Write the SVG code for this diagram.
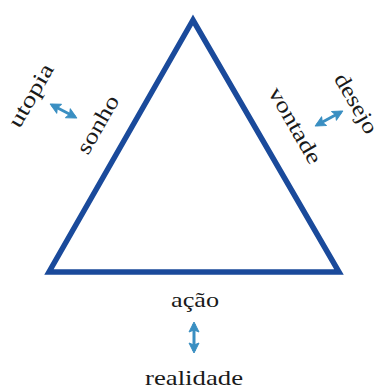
<svg xmlns="http://www.w3.org/2000/svg" width="378" height="389" viewBox="0 0 378 389">
<style>
.t{font-family:"Liberation Serif","Times New Roman",serif;font-size:22px;fill:#1a1a1a;}
.arr{stroke:#3a8fc2;stroke-width:3;fill:none;marker-start:url(#h);marker-end:url(#h);}
</style>
<defs>
<marker id="h" markerUnits="userSpaceOnUse" markerWidth="12" markerHeight="12" refX="9" refY="6" orient="auto-start-reverse">
<path d="M1,1 L11,6 L1,11 L3,6 z" fill="#3a8fc2" stroke="#3a8fc2" stroke-width="1" stroke-linejoin="round"/>
</marker>
</defs>
<rect width="378" height="389" fill="#fff"/>
<g id="triangle">
<polygon points="193,20 49,272 339,272" fill="none" stroke="#1a4a9b" stroke-width="5.5" stroke-linejoin="miter"/>
</g>
<g id="sonho"><text class="t" text-anchor="middle" textLength="64" lengthAdjust="spacingAndGlyphs" transform="translate(104,128) rotate(-60)">sonho</text></g>
<g id="vontade"><text class="t" text-anchor="middle" textLength="85" lengthAdjust="spacingAndGlyphs" transform="translate(289,129) rotate(60)">vontade</text></g>
<g id="acao"><text class="t" x="195" y="307" text-anchor="middle" textLength="48" lengthAdjust="spacingAndGlyphs">ação</text></g>
<g id="utopia"><text class="t" text-anchor="middle" textLength="70" lengthAdjust="spacingAndGlyphs" transform="translate(37,99) rotate(-60)">utopia</text></g>
<g id="desejo"><text class="t" text-anchor="middle" textLength="66" lengthAdjust="spacingAndGlyphs" transform="translate(350,107) rotate(60)">desejo</text></g>
<g id="realidade"><text class="t" x="194" y="385" text-anchor="middle" textLength="98" lengthAdjust="spacingAndGlyphs">realidade</text></g>
<g id="connectors">
<line class="arr" x1="194" y1="324" x2="194" y2="351"/>
<line class="arr" x1="52" y1="105" x2="75" y2="117"/>
<line class="arr" x1="317" y1="125" x2="341" y2="112"/>
</g>
</svg>
